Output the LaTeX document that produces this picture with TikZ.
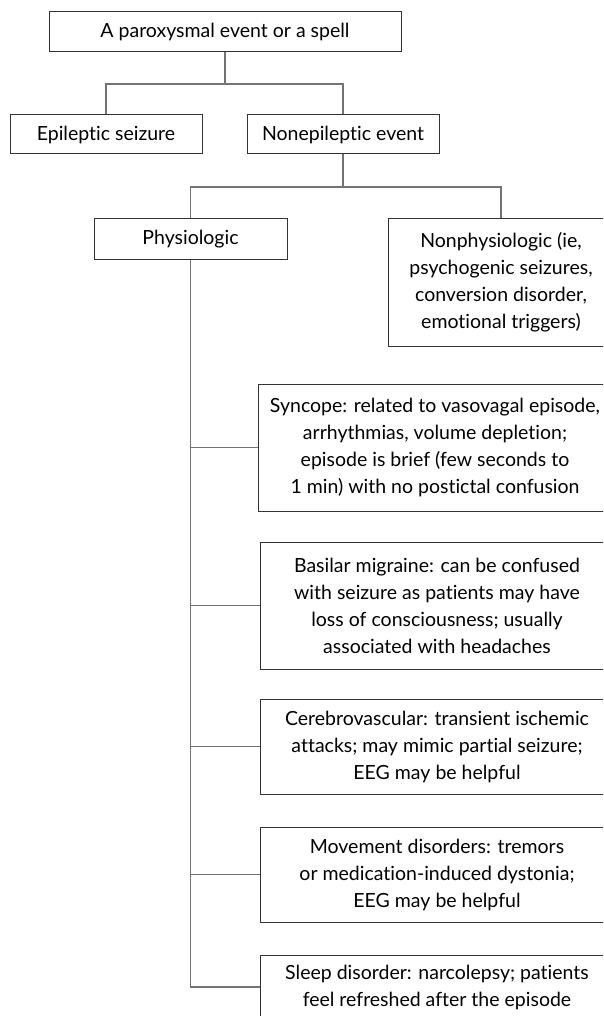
\documentclass[tikz,border=0pt]{standalone}
\usepackage{fontspec}
\setmainfont{Lato}[Ligatures=NoCommon]

\begin{document}
\begin{tikzpicture}[x=1pt, y=-1pt,
		box/.style={draw=black!80, line width=1pt, align=center, inner sep=0pt, font=\fontsize{19.5}{27}\selectfont},
		wide/.style={box, minimum width=354},
		link/.style={draw=black!55, line width=1.2pt}]
			\useasboundingbox (0,0) rectangle (603,1016);
			\clip (0,0) rectangle (603,1016);
			
			\node[box, minimum width=352, minimum height=40] (spell) at (225,32) {A paroxysmal event or a spell};
			\node[box, minimum width=192, minimum height=39] (epi) at (106,134.5) {Epileptic seizure};
			\node[box, minimum width=192, minimum height=39] (nonepi) at (343,134.5) {Nonepileptic event};
			
			\node[box, minimum width=193, minimum height=40] (phys) at (190.5,239) {Physiologic};
			\node[box, minimum width=226, minimum height=127] (nonphys) at (501,282.5) {Nonphysiologic (ie,\\ psychogenic seizures,\\ conversion disorder,\\ emotional triggers)};
			
			\node[wide, minimum height=127] (syncope) at (435,447.5) {Syncope: related to vasovagal episode,\\ arrhythmias, volume depletion;\\ episode is brief (few seconds to\\ 1 min) with no postictal confusion};
			\node[wide, minimum height=127] (migraine) at (437,605.5) {Basilar migraine: can be confused\\ with seizure as patients may have\\ loss of consciousness; usually\\ associated with headaches};
			\node[wide, minimum height=95] (cerebro) at (437,746.5) {Cerebrovascular: transient ischemic\\ attacks; may mimic partial seizure;\\ EEG may be helpful};
			\node[wide, minimum height=95] (movement) at (437,874.5) {Movement disorders: tremors\\ or medication-induced dystonia;\\ EEG may be helpful};
			\node[wide, minimum height=64] (sleep) at (437,987) {Sleep disorder: narcolepsy; patients\\ feel refreshed after the episode};
			
			% tree links
			\draw[link] (spell.south) -- (spell.south |- 0,84) coordinate (split1);
			\draw[link] (epi.north) |- (split1) -| (nonepi.north);
			\draw[link] (nonepi.south) -- (nonepi.south |- 0,187) coordinate (split2);
			\draw[link] (phys.north) |- (split2) -| (nonphys.north);
			
			\draw[link] (phys.south) |- (sleep.west);
			\foreach \n in {syncope, migraine, cerebro, movement}
				\draw[link] (phys.south |- \n.west) -- (\n.west);
			
		\end{tikzpicture}
\end{document}
